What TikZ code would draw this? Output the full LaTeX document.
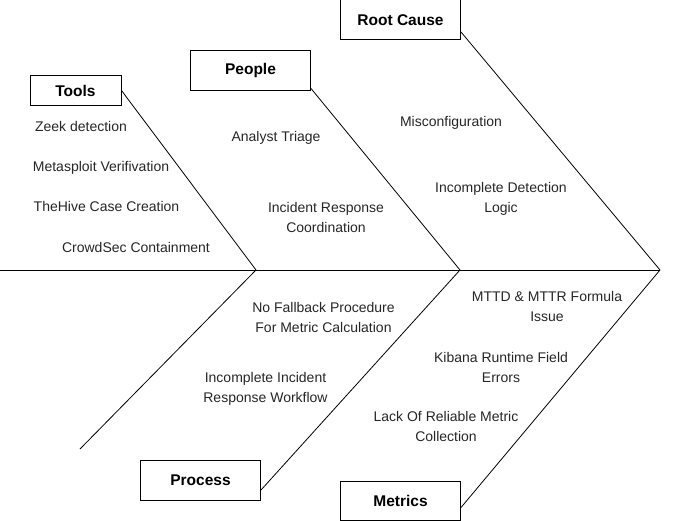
\documentclass[tikz,border=0pt]{standalone}
\usepackage{fontspec}
\setmainfont{Liberation Sans}
\begin{document}
\begin{tikzpicture}[x=1pt,y=-1pt,
  catbox/.style={draw=black,line width=1pt,fill=white,inner sep=0pt,
    minimum width=120pt,minimum height=40pt,
    font=\fontsize{15.5}{18}\selectfont\bfseries},
  cause/.style={align=center,inner sep=0pt,text=black!85,
    font=\fontsize{14}{20}\selectfont},
  cause1/.style={cause,text height=10pt,text depth=0pt},
  bone/.style={draw=black,line width=0.8pt}]
\useasboundingbox (0,0) rectangle (682,521);

% junction points on the spine
\coordinate (tail) at (0,270);
\coordinate (j1) at (256,270);
\coordinate (j2) at (460,270);
\coordinate (j3) at (660,270);
\coordinate (t1) at (80,449);

% category boxes
\node[catbox,minimum width=91pt,minimum height=30pt] (tools) at (75.5,90.5) {Tools};
\node[catbox] (people) at (250.5,70.5) {People};
\node[catbox] (root) at (400.5,20) {Root Cause};
\node[catbox] (process) at (200.5,480) {Process};
\node[catbox,minimum height=39pt] (metrics) at (400.5,501) {Metrics};

% spine
\draw[bone,line width=1pt] (tail) -- (j3);

% bones
\draw[bone] (tools.east) -- (j1);
\draw[bone] (t1) -- (j1);
\draw[bone] ([yshift=2.5pt]people.south east) -- (j2);
\draw[bone] ([yshift=-12pt]root.east) -- (j3);
\draw[bone] ([yshift=-10pt]process.east) -- (j2);
\draw[bone] ([yshift=-6.5pt]metrics.east) -- (j3);

% causes
\node[cause1] (c1) at (81,127) {Zeek detection};
\node[cause1] (c2) at (101,167) {Metasploit Verifivation};
\node[cause1] (c3) at (106.5,207) {TheHive Case Creation};
\node[cause1] (c4) at (136,247) {CrowdSec Containment};
\node[cause1] (c5) at (276,137) {Analyst Triage};
\node[cause] (c6) at (326,217) {Incident Response\\Coordination};
\node[cause1] (c7) at (451,122) {Misconfiguration};
\node[cause] (c8) at (501,199) {Incomplete Detection\\Logic};
\node[cause] (c9) at (323.5,317) {No Fallback Procedure\\For Metric Calculation};
\node[cause] (c10) at (265.5,389) {Incomplete Incident\\Response Workflow};
\node[cause] (c11) at (547,306.5) {MTTD \& MTTR Formula\\Issue};
\node[cause] (c12) at (501,367) {Kibana Runtime Field\\Errors};
\node[cause] (c13) at (446,426) {Lack Of Reliable Metric\\Collection};
\end{tikzpicture}
\end{document}
